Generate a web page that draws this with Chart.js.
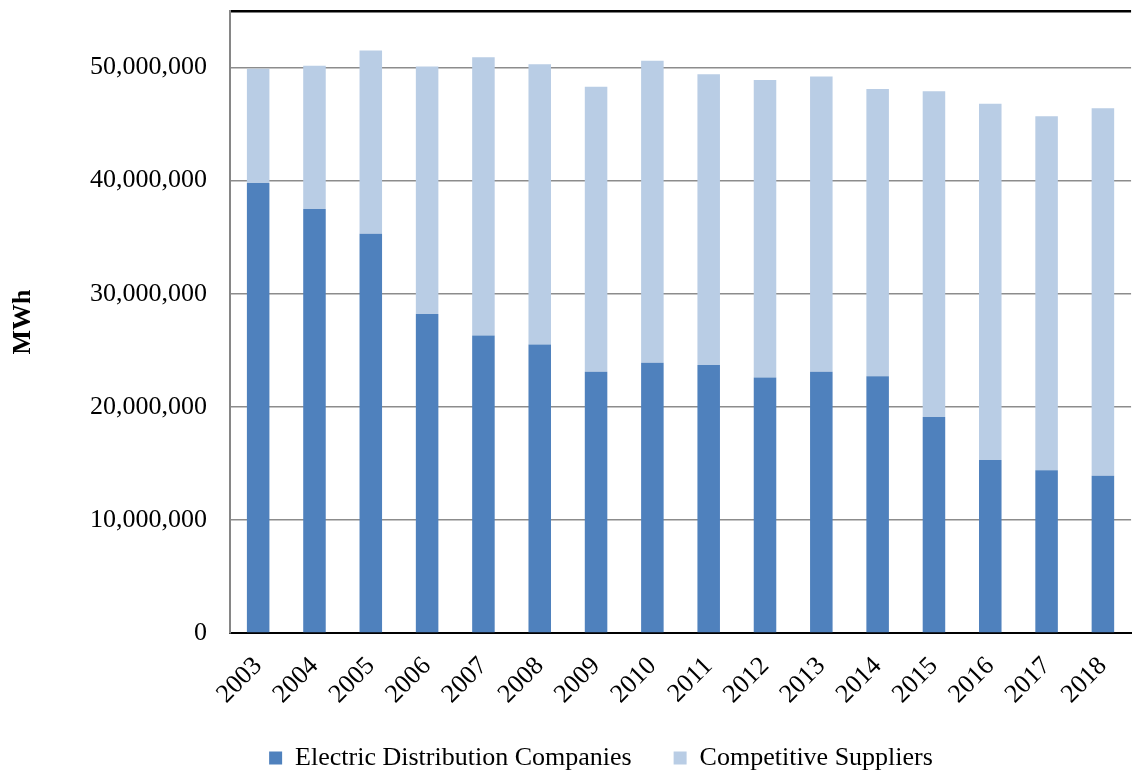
<!DOCTYPE html>
<html>
<head>
<meta charset="utf-8">
<script src="https://cdn.jsdelivr.net/npm/chart.js@4/dist/chart.umd.min.js"></script>
<style>
  body { margin: 0; background: #fff; }
  #wrap { width: 1135px; height: 775px; }
</style>
</head>
<body>
<div id="wrap"><canvas id="mwhChart" width="1135" height="775"></canvas></div>
<script>
const years = ['2003', '2004', '2005', '2006', '2007', '2008', '2009', '2010',
  '2011', '2012', '2013', '2014', '2015', '2016', '2017', '2018'];
// MWh served by the distribution companies (basic service)
const edcMWh = [39.8e6, 37.5e6, 35.3e6, 28.2e6, 26.3e6, 25.5e6, 23.1e6, 23.9e6,
  23.7e6, 22.6e6, 23.1e6, 22.7e6, 19.1e6, 15.3e6, 14.4e6, 13.9e6];
// MWh served by competitive suppliers
const compMWh = [10.1e6, 12.65e6, 16.2e6, 21.9e6, 24.6e6, 24.8e6, 25.2e6, 26.7e6,
  25.7e6, 26.3e6, 26.1e6, 25.4e6, 28.8e6, 31.5e6, 31.3e6, 32.5e6];
// y ticks; the top one (55M) only carries the black frame line
const yTicks = [0, 10e6, 20e6, 30e6, 40e6, 50e6, 55e6];
const yMax = 55e6;

const serif = '"Liberation Serif", "Times New Roman", serif';

// nudge the legend a bit to the right like in the original
const legendShift = {
  id: 'legendShift',
  afterLayout(chart) {
    chart.legend.left += 34;
    chart.legend.right += 34;
  }
};

const ctx = document.getElementById('mwhChart').getContext('2d');
new Chart(ctx, {
  type: 'bar',
  data: {
    labels: years,
    datasets: [
      {
        label: 'Electric Distribution Companies',
        data: edcMWh,
        backgroundColor: '#4F81BD',
        categoryPercentage: 1,
        barPercentage: 0.4
      },
      {
        label: 'Competitive Suppliers',
        data: compMWh,
        backgroundColor: '#B9CDE5',
        categoryPercentage: 1,
        barPercentage: 0.4
      }
    ]
  },
  plugins: [legendShift],
  options: {
    responsive: false,
    animation: false,
    layout: { padding: { top: 11, right: 1, bottom: -6, left: 0 } },
    plugins: {
      tooltip: { enabled: false },
      legend: {
        position: 'bottom',
        labels: {
          color: '#000',
          font: { family: serif, size: 26 },
          boxWidth: 13,
          boxHeight: 13,
          padding: 42
        }
      }
    },
    scales: {
      x: {
        stacked: true,
        afterFit: s => { s.height = 70; },
        grid: { display: false },
        border: { display: true, color: '#000', width: 2 },
        ticks: {
          color: '#000',
          font: { family: serif, size: 26 },
          minRotation: 45,
          maxRotation: 45,
          padding: 10
        }
      },
      y: {
        stacked: true,
        min: 0,
        max: yMax,
        afterBuildTicks: s => { s.ticks = yTicks.map(v => ({ value: v })); },
        afterFit: s => {
          s.width = 230;
          s.paddingTop = 0;
          s.paddingBottom = 0;
        },
        border: { color: '#868686', width: 2 },
        grid: {
          drawTicks: false,
          color: c => (c.tick && c.tick.value === yMax) ? '#000' : '#8c8c8c',
          lineWidth: c => (c.tick && c.tick.value === yMax) ? 2.5 : 1.5
        },
        ticks: {
          padding: 23,
          color: '#000',
          font: { family: serif, size: 26 },
          callback: v => v === yMax ? '' : v.toLocaleString('en-US')
        },
        title: {
          display: true,
          text: 'MWh',
          color: '#000',
          font: { family: serif, size: 26, weight: 'bold', lineHeight: 1 },
          padding: { top: 10, bottom: 0 }
        }
      }
    }
  }
});
</script>
</body>
</html>
